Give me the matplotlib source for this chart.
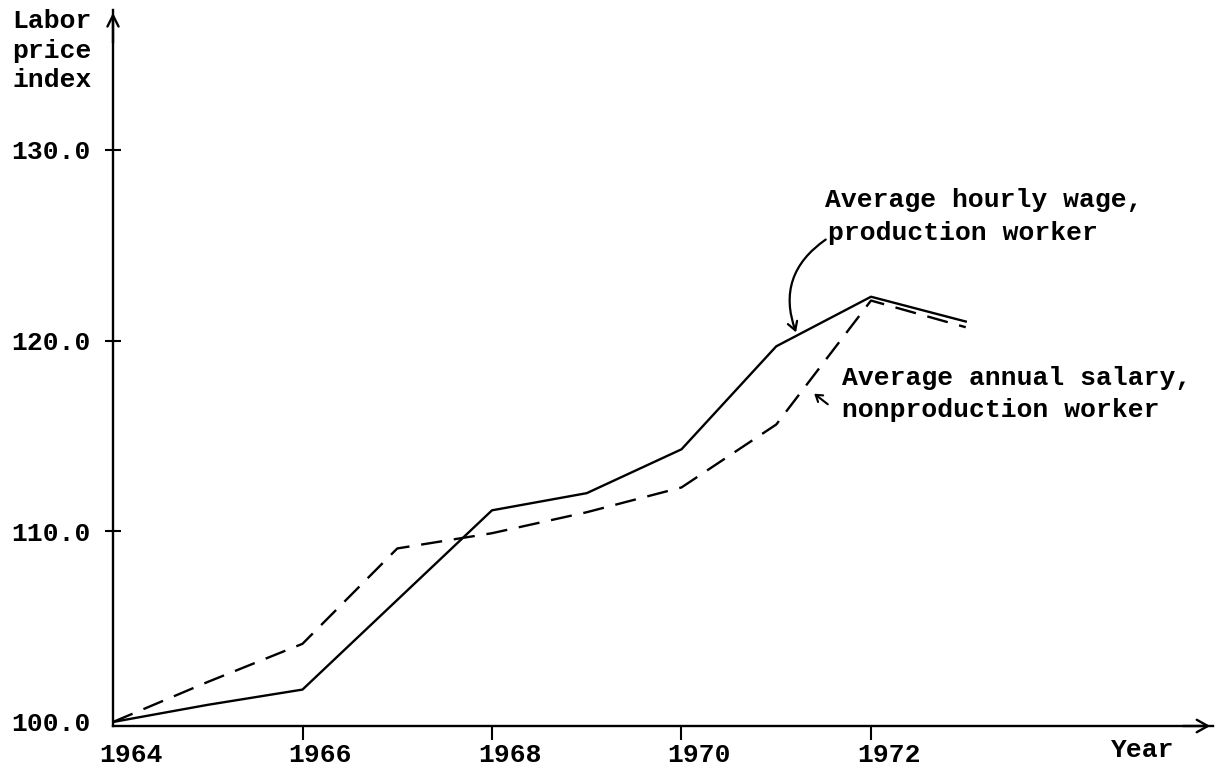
import matplotlib
matplotlib.use("Agg")
import matplotlib.pyplot as plt
import matplotlib.transforms as mtransforms

# ---- data ----
years = [1964, 1965, 1966, 1967, 1968, 1969, 1970, 1971, 1972, 1973]
hourly_wage = [100.0, 100.9, 101.7, 106.4, 111.1, 112.0, 114.3, 119.7, 122.3, 121.0]
annual_salary = [100.0, 102.1, 104.1, 109.1, 109.9, 111.0, 112.3, 115.6, 122.1, 120.7]
y_ticks = [100, 110, 120, 130]
y_tick_labels = ["100.0", "110.0", "120.0", "130.0"]
x_ticks = [1964, 1966, 1968, 1970, 1972]
x_tick_labels = ["1964", "1966", "1968", "1970", "1972"]

W, H = 1217, 767
FONT = "Liberation Mono"
FS = 19
plt.rcParams['font.family'] = [FONT, 'DejaVu Sans Mono']
plt.rcParams['font.weight'] = 'bold'

fig = plt.figure(figsize=(W / 100, H / 100), dpi=100)
ax = fig.add_axes([113 / W, 41 / H, 1100 / W, 716 / H])
ax.set_xlim(1964, 1964 + 1100 / 94.75)
ax.set_ylim(99.79, 99.79 + 716 / 19.07)

ax.plot(years, hourly_wage, color='black', lw=1.7)
ax.plot(years, annual_salary, color='black', lw=1.7, dashes=(9, 5))

for s in ['top', 'right']:
    ax.spines[s].set_visible(False)
for s in ['left', 'bottom']:
    ax.spines[s].set_linewidth(1.7)

ax.set_yticks(y_ticks, y_tick_labels)
ax.set_xticks(x_ticks, x_tick_labels)
ax.tick_params(axis='y', direction='inout', length=12, width=1.5, pad=10, labelsize=FS)
ax.tick_params(axis='x', direction='out', length=10, width=1.5, pad=2, labelsize=FS)
ax.xaxis.get_major_ticks()[0].tick1line.set_visible(False)
ax.yaxis.get_major_ticks()[0].tick1line.set_visible(False)
offset = mtransforms.ScaledTranslation(18 / 100, 0, fig.dpi_scale_trans)
for lab in ax.get_xticklabels():
    lab.set_transform(lab.get_transform() + offset)

# axis arrows
ax.annotate('', xy=(0, 1), xycoords='axes fraction', xytext=(0, 0.95),
            arrowprops=dict(arrowstyle='->,head_length=0.8,head_width=0.4', lw=1.7, color='black'))
ax.annotate('', xy=(1, 0), xycoords='axes fraction', xytext=(0.97, 0),
            arrowprops=dict(arrowstyle='->,head_length=0.8,head_width=0.45', lw=1.7, color='black'))

# axis titles
fig.text(12 / W, 1 - 9 / H, "Labor\nprice\nindex", va='top', ha='left', fontsize=FS, linespacing=1.3)
fig.text(1111 / W, 1 - 750 / H, "Year", va='center', ha='left', fontsize=FS)

# annotations
fig.text(825 / W, 1 - 200 / H, "Average hourly wage,", va='center', ha='left', fontsize=FS)
fig.text(828 / W, 1 - 233 / H, "production worker", va='center', ha='left', fontsize=FS)
fig.text(842 / W, 1 - 378 / H, "Average annual salary,", va='center', ha='left', fontsize=FS)
fig.text(842 / W, 1 - 410 / H, "nonproduction worker", va='center', ha='left', fontsize=FS)

ax.annotate('', xy=(797, H - 335), xycoords='figure pixels',
            xytext=(828, H - 238), textcoords='figure pixels',
            arrowprops=dict(arrowstyle='->,head_length=0.6,head_width=0.35',
                            connectionstyle='arc3,rad=0.4', lw=1.6, color='black'))
ax.annotate('', xy=(812, H - 392), xycoords='figure pixels',
            xytext=(830, H - 406), textcoords='figure pixels',
            arrowprops=dict(arrowstyle='->,head_length=0.45,head_width=0.3',
                            lw=1.5, color='black'))

fig.savefig('out.png', dpi=100)
